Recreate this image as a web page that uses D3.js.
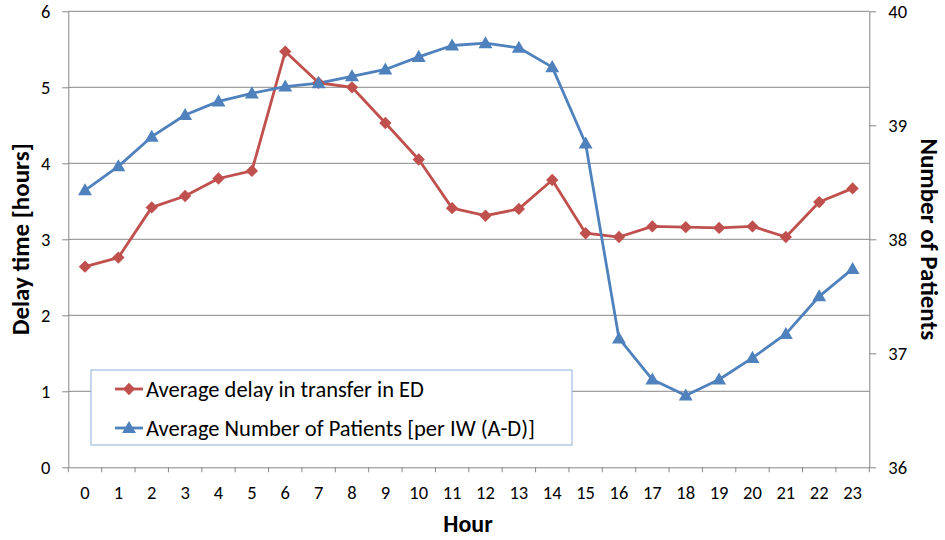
<!DOCTYPE html>
<html>
<head>
<meta charset="utf-8">
<script src="https://cdn.jsdelivr.net/npm/d3@7"></script>
<style>
  html, body { margin: 0; padding: 0; background: #fff; }
  svg { display: block; font-family: Carlito, Calibri, Lato, "Open Sans", sans-serif; }
</style>
</head>
<body>
<svg id="chart" width="945" height="540"></svg>
<script>
// Hour of day (category axis)
const hours = d3.range(0, 24).map(String);

// Average delay in transfer in ED, hours (left axis)
const delayHours = [2.64, 2.76, 3.42, 3.57, 3.80, 3.90, 5.47, 5.06, 5.00, 4.53, 4.05, 3.41,
                    3.31, 3.40, 3.78, 3.08, 3.03, 3.17, 3.16, 3.15, 3.17, 3.03, 3.49, 3.67];

// Average number of patients per IW (A-D) (right axis)
const patients = [38.43, 38.64, 38.90, 39.09, 39.21, 39.28, 39.34, 39.37, 39.43, 39.49, 39.60, 39.70,
                  39.72, 39.68, 39.51, 38.84, 37.13, 36.77, 36.63, 36.77, 36.96, 37.17, 37.50, 37.74];

const leftTicks = [0, 1, 2, 3, 4, 5, 6];
const rightTicks = [36, 37, 38, 39, 40];

const seriesNames = ["Average delay in transfer in ED", "Average Number of Patients [per IW (A-D)]"];
const axisTitles = { left: "Delay time [hours]", right: "Number of Patients", bottom: "Hour" };

const RED = "#C0504D", BLUE = "#4F81BD", GRID = "#878787";

const svg = d3.select("#chart");
const plot = { left: 68.3, right: 869.3, top: 11.3, bottom: 467.3 };

const x = d3.scaleBand().domain(hours).range([plot.left, plot.right]).padding(0);
const yL = d3.scaleLinear().domain([0, 6]).range([plot.bottom, plot.top]);
const yR = d3.scaleLinear().domain([36, 40]).range([plot.bottom, plot.top]);
const cx = d => x(d) + x.bandwidth() / 2;

// Horizontal gridlines at left-axis ticks
svg.append("g")
  .selectAll("line")
  .data(leftTicks.filter(t => t > 0))
  .join("line")
  .attr("x1", plot.left).attr("x2", plot.right)
  .attr("y1", d => yL(d)).attr("y2", d => yL(d))
  .attr("stroke", GRID).attr("stroke-width", 1);

// Axes
function styleAxis(g) {
  g.selectAll("path.domain").attr("stroke", GRID).attr("stroke-width", 1);
  g.selectAll(".tick line").attr("stroke", GRID).attr("stroke-width", 1);
  g.selectAll(".tick text").attr("fill", "#000").attr("font-size", 18.5)
    .attr("font-family", "Carlito, Calibri, Lato, sans-serif");
}

const gL = svg.append("g").attr("transform", `translate(${plot.left},0)`)
  .call(d3.axisLeft(yL).tickValues(leftTicks).tickFormat(d3.format("d")).tickSizeInner(6).tickSizeOuter(0).tickPadding(12));
styleAxis(gL);

const gR = svg.append("g").attr("transform", `translate(${plot.right},0)`)
  .call(d3.axisRight(yR).tickValues(rightTicks).tickFormat(d3.format("d")).tickSizeInner(7).tickSizeOuter(0).tickPadding(12));
styleAxis(gR);

const gB = svg.append("g").attr("transform", `translate(0,${plot.bottom})`)
  .call(d3.axisBottom(x).tickSize(0).tickPadding(19));
styleAxis(gB);
// Category boundary tick marks
gB.append("g").selectAll("line")
  .data(hours.map(h => x(h)).concat([plot.right]))
  .join("line")
  .attr("x1", d => d).attr("x2", d => d)
  .attr("y1", 0).attr("y2", 5)
  .attr("stroke", GRID).attr("stroke-width", 1);

// Series lines
const lineL = d3.line().x((d, i) => cx(hours[i])).y(d => yL(d));
const lineR = d3.line().x((d, i) => cx(hours[i])).y(d => yR(d));

svg.append("path").datum(delayHours).attr("d", lineL)
  .attr("fill", "none").attr("stroke", RED).attr("stroke-width", 2.8).attr("stroke-linejoin", "round");
svg.append("path").datum(patients).attr("d", lineR)
  .attr("fill", "none").attr("stroke", BLUE).attr("stroke-width", 2.8).attr("stroke-linejoin", "round");

const diamond = d3.symbol().type(d3.symbolSquare).size(76);
const triangle = d3.symbol().type(d3.symbolTriangle).size(84);

svg.append("g").selectAll("path")
  .data(delayHours).join("path")
  .attr("d", diamond)
  .attr("transform", (d, i) => `translate(${cx(hours[i])},${yL(d)}) rotate(45)`)
  .attr("fill", RED);

svg.append("g").selectAll("path")
  .data(patients).join("path")
  .attr("d", triangle)
  .attr("transform", (d, i) => `translate(${cx(hours[i])},${yR(d) + 1})`)
  .attr("fill", BLUE);

// Legend
const legend = svg.append("g");
legend.append("rect")
  .attr("x", 91).attr("y", 370).attr("width", 481).attr("height", 75)
  .attr("fill", "#fff").attr("stroke", "#8EB0DB").attr("stroke-width", 1);

const legendRows = [
  { name: seriesNames[0], color: RED, sym: diamond, rot: 45, y: 389 },
  { name: seriesNames[1], color: BLUE, sym: triangle, rot: 0, y: 428 }
];
const lr = legend.selectAll("g.row").data(legendRows).join("g").attr("class", "row")
  .attr("transform", d => `translate(0,${d.y})`);
lr.append("line").attr("x1", 115).attr("x2", 143).attr("y1", 0).attr("y2", 0)
  .attr("stroke", d => d.color).attr("stroke-width", 2.8);
lr.append("path").attr("d", d => d.sym())
  .attr("transform", d => `translate(129,${d.rot ? 0 : 1}) rotate(${d.rot})`)
  .attr("fill", d => d.color);
lr.append("text").attr("x", 146).attr("y", 0).attr("dy", "0.35em")
  .attr("font-size", 22.5).attr("fill", "#000").text(d => d.name);

// Axis titles
svg.append("text")
  .attr("transform", `translate(20,${(plot.top + plot.bottom) / 2}) rotate(-90)`)
  .attr("text-anchor", "middle").attr("dy", "0.35em")
  .attr("font-size", 25).attr("font-weight", "bold").text(axisTitles.left);

svg.append("text")
  .attr("transform", `translate(930,${(plot.top + plot.bottom) / 2}) rotate(90)`)
  .attr("text-anchor", "middle").attr("dy", "0.35em")
  .attr("font-size", 25).attr("font-weight", "bold").text(axisTitles.right);

svg.append("text")
  .attr("x", 468).attr("y", 532)
  .attr("text-anchor", "middle")
  .attr("font-size", 24).attr("font-weight", "bold").text(axisTitles.bottom);
</script>
</body>
</html>
